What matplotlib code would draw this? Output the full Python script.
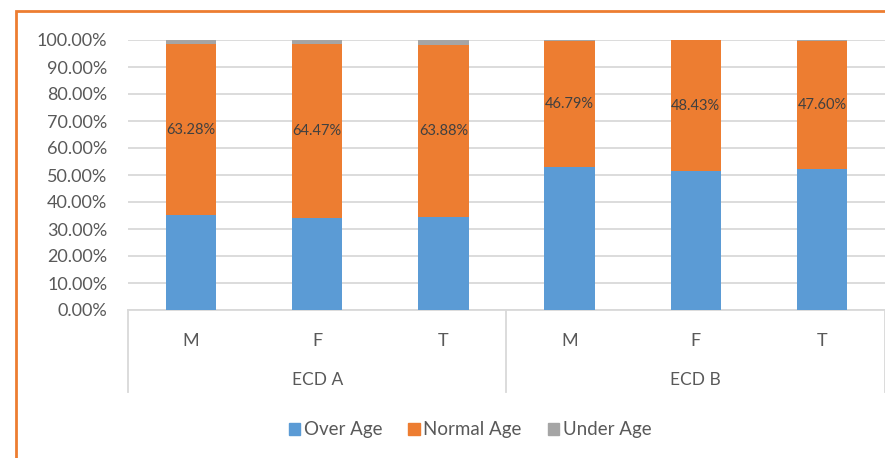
import matplotlib.pyplot as plt
import matplotlib.transforms as mtransforms
from matplotlib.patches import Patch, Rectangle

plt.rcParams['font.family'] = ['Lato', 'DejaVu Sans']

# data (percent of pupils in each age band)
groups = ["ECD A", "ECD B"]
sexes = ["M", "F", "T"]
over_age = [35.20, 34.00, 34.30, 52.90, 51.40, 52.10]
normal_age = [63.28, 64.47, 63.88, 46.79, 48.43, 47.60]
under_age = [1.52, 1.53, 1.82, 0.31, 0.17, 0.30]

c_over = "#5B9BD5"
c_normal = "#ED7D31"
c_under = "#A5A5A5"
grid_c = "#D9D9D9"
text_c = "#595959"

fig = plt.figure(figsize=(8.85, 4.58), dpi=100)
ax = fig.add_axes([128 / 885, 148 / 458, 757 / 885, 270 / 458])

x = list(range(len(over_age)))
w = 0.4
ax.bar(x, over_age, w, color=c_over, zorder=3)
ax.bar(x, normal_age, w, bottom=over_age, color=c_normal, zorder=3)
tops = [o + n for o, n in zip(over_age, normal_age)]
ax.bar(x, under_age, w, bottom=tops, color=c_under, zorder=3)

for xi, o, n in zip(x, over_age, normal_age):
    ax.text(xi, o + n / 2, f"{n:.2f}%", ha="center", va="center",
            fontsize=10.5, color="#404040", zorder=4)

ax.set_xlim(-0.5, len(x) - 0.5)
ax.set_ylim(0, 100)
ax.set_yticks(range(0, 101, 10))
ax.set_yticklabels([f"{v:.2f}%" for v in range(0, 101, 10)])
ax.tick_params(axis="y", length=0, pad=15, labelsize=13, labelcolor=text_c)
ax.set_xticks([])
ax.yaxis.grid(True, color=grid_c, linewidth=1.3, zorder=0)
for s in ["left", "right", "top"]:
    ax.spines[s].set_visible(False)
ax.spines["bottom"].set_color(grid_c)
ax.spines["bottom"].set_linewidth(1.3)

# two-level category axis below the plot
trans = mtransforms.blended_transform_factory(ax.transData, ax.transAxes)
for xv in [-0.5, 2.5, 5.5]:
    ax.plot([xv, xv], [0, -0.305], color=grid_c, linewidth=1.3,
            transform=trans, clip_on=False)
for xi in x:
    ax.text(xi, -0.113, sexes[xi % 3], ha="center", va="center",
            fontsize=13, color=text_c, transform=trans)
for gi, g in enumerate(groups):
    ax.text(gi * 3 + 1, -0.26, g, ha="center", va="center",
            fontsize=12.5, color=text_c, transform=trans)

handles = [Patch(color=c_over), Patch(color=c_normal), Patch(color=c_under)]
fig.legend(handles, ["Over Age", "Normal Age", "Under Age"],
           loc="center", bbox_to_anchor=(470 / 885, 1 - 430 / 458),
           ncol=3, frameon=False, fontsize=13.5, labelcolor=text_c,
           handlelength=0.6, handleheight=0.6, handletextpad=0.2,
           columnspacing=1.4)

# orange outline of the chart box
fig.patches.append(Rectangle((16 / 885, -0.1), 1.2, 1 - 11 / 458 + 0.1,
                             transform=fig.transFigure, fill=False,
                             edgecolor="#ED7D31", linewidth=2))

fig.savefig("out.png", dpi=100)
